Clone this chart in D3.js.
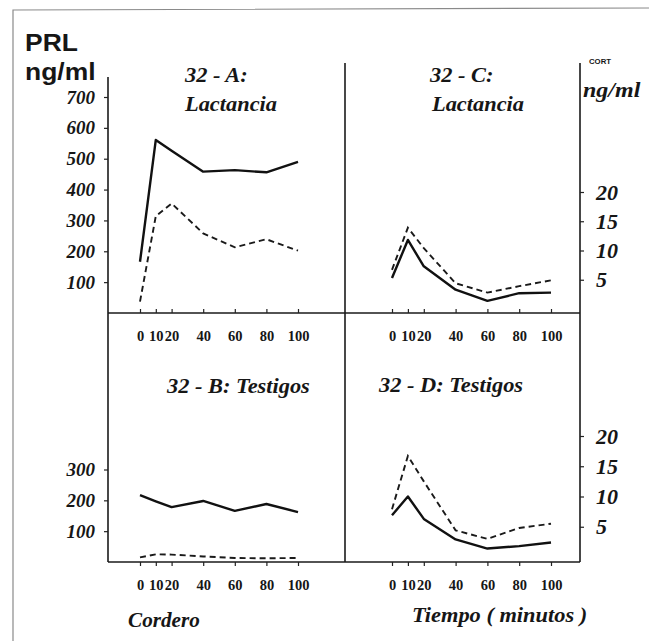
<!DOCTYPE html>
<html>
<head>
<meta charset="utf-8">
<script src="https://cdn.jsdelivr.net/npm/d3@7"></script>
<style>
  body { margin: 0; background: #fff; }
</style>
</head>
<body>
<div id="chart"></div>
<script>
// sampling times (minutes)
const times = [0, 10, 20, 40, 60, 80, 100];
const timeTicks = [0, 10, 20, 40, 60, 80, 100];

// PRL ng/ml
const prlLactSolid  = [166, 561, 526, 458, 463, 456, 490];
const prlLactDashed = [37, 314, 355, 258, 213, 239, 202];
const prlTestSolid  = [217, 197, 178, 198, 166, 188, 162];
const prlTestDashed = [15, 25, 24, 18, 13, 12, 13];

// CORT ng/ml
const cortLactSolid  = [5.3, 11.8, 7.3, 3.3, 1.4, 2.7, 2.8];
const cortLactDashed = [6.7, 13.9, 10.4, 4.4, 2.8, 3.9, 4.9];
const cortTestSolid  = [6.9, 10.0, 6.3, 2.9, 1.4, 1.8, 2.4];
const cortTestDashed = [7.9, 16.7, 12.5, 4.4, 3.0, 4.8, 5.5];

const prlTicksTop = [100, 200, 300, 400, 500, 600, 700];
const prlTicksBot = [100, 200, 300];
const cortTicks = [5, 10, 15, 20];

const SERIF = "Liberation Serif";
const SANS = "Liberation Sans";
const INK = "#161616";

const W = 649, H = 641;
const svg = d3.select("#chart").append("svg")
    .attr("width", W).attr("height", H);

svg.append("rect").attr("width", W).attr("height", H).attr("fill", "#fff");

// outer frame (scan border)
svg.append("path")
    .attr("d", "M13,641 L13,10 L649,8")
    .attr("fill", "none").attr("stroke", "#8a8a8a").attr("stroke-width", 1.2);

// layout lines
const L = 108, M = 345, R = 580, midY = 313, botY = 562;
const frame = [
  [L, 77, L, botY], [M, 63, M, botY], [R, 63, R, botY],
  [L, midY, R, midY], [L, botY, R, botY]
];
svg.selectAll(".frame").data(frame).enter().append("line")
    .attr("x1", d => d[0]).attr("y1", d => d[1])
    .attr("x2", d => d[2]).attr("y2", d => d[3])
    .attr("stroke", "#1a1a1a").attr("stroke-width", 1.6);

// scales
const xL = d3.scaleLinear().domain([0, 100]).range([140, 298]);
const xR = d3.scaleLinear().domain([0, 100]).range([392, 551]);
const yPrlTop = d3.scaleLinear().domain([0, 700]).range([midY, 97]);
const yPrlBot = d3.scaleLinear().domain([0, 300]).range([botY, 469.5]);
const yCortTop = d3.scaleLinear().domain([0, 20]).range([309, 192]);
const yCortBot = d3.scaleLinear().domain([0, 20]).range([557, 436]);

function styleAxis(g, size, italic) {
  g.attr("font-family", SERIF).attr("font-size", size);
  g.select(".domain").remove();
  g.selectAll("line").attr("stroke", "#222").attr("stroke-width", 1.2);
  g.selectAll("text")
      .attr("font-family", SERIF).attr("font-weight", "bold")
      .attr("font-style", italic ? "italic" : "normal")
      .attr("font-size", size)
      .attr("fill", INK);
}

// y axes
function yAxis(axis, x, size) {
  const g = svg.append("g").attr("transform", `translate(${x},0)`).call(axis);
  styleAxis(g, size, true);
}
yAxis(d3.axisLeft(yPrlTop).tickValues(prlTicksTop).tickSize(4).tickPadding(9), L, 19);
yAxis(d3.axisLeft(yPrlBot).tickValues(prlTicksBot).tickSize(4).tickPadding(9), L, 19);
yAxis(d3.axisRight(yCortTop).tickValues(cortTicks).tickSize(4).tickPadding(12), R, 22);
yAxis(d3.axisRight(yCortBot).tickValues(cortTicks).tickSize(4).tickPadding(12), R, 22);

// x axes
function xAxis(scale, y, up) {
  const axis = d3.axisBottom(scale).tickValues(timeTicks)
      .tickSize(up ? -4 : 4).tickPadding(up ? 17.5 : 13.5);
  const g = svg.append("g").attr("transform", `translate(0,${y})`).call(axis);
  styleAxis(g, 14.5, false);
}
xAxis(xL, midY, true);
xAxis(xR, midY, true);
xAxis(xL, botY, false);
xAxis(xR, botY, false);

// series
const panels = [
  {x: xL, y: yPrlTop, solid: prlLactSolid, dashed: prlLactDashed},
  {x: xL, y: yPrlBot, solid: prlTestSolid, dashed: prlTestDashed},
  {x: xR, y: yCortTop, solid: cortLactSolid, dashed: cortLactDashed},
  {x: xR, y: yCortBot, solid: cortTestSolid, dashed: cortTestDashed}
];
panels.forEach(p => {
  const line = d3.line().x((d, i) => p.x(times[i])).y(d => p.y(d));
  svg.append("path").datum(p.dashed).attr("d", line)
      .attr("fill", "none").attr("stroke", "#1a1a1a").attr("stroke-width", 1.9)
      .attr("stroke-dasharray", "6,4");
  svg.append("path").datum(p.solid).attr("d", line)
      .attr("fill", "none").attr("stroke", "#111").attr("stroke-width", 2.4)
      .attr("stroke-linejoin", "round");
});

// labels (scanned lettering is a bit wider than Times, so stretch a little)
function label(txt, x, y, fam, italic, size, sx) {
  svg.append("text")
      .attr("transform", `translate(${x},${y}) scale(${sx || 1},1)`)
      .attr("font-family", fam).attr("font-weight", "bold")
      .attr("font-style", italic ? "italic" : "normal")
      .attr("font-size", size)
      .attr("fill", INK)
      .text(txt);
}
label("PRL", 25, 51, SANS, false, 23, 1.15);
label("ng/ml", 25, 80, SANS, false, 23, 1.15);
label("CORT", 589, 64, SANS, false, 6.5, 1.2);
label("ng/ml", 583, 97, SERIF, true, 20, 1.2);

label("32 - A:", 185, 82, SERIF, true, 20, 1.12);
label("Lactancia", 185, 111, SERIF, true, 20, 1.12);
label("32 - C:", 430, 82, SERIF, true, 20, 1.12);
label("Lactancia", 432, 111, SERIF, true, 20, 1.12);
label("32 - B: Testigos", 167, 393, SERIF, true, 20, 1.12);
label("32 - D: Testigos", 379, 392, SERIF, true, 20, 1.12);
label("Cordero", 128, 627, SERIF, true, 20, 1.06);
label("Tiempo ( minutos )", 412, 622, SERIF, true, 20, 1.12);
</script>
</body>
</html>
